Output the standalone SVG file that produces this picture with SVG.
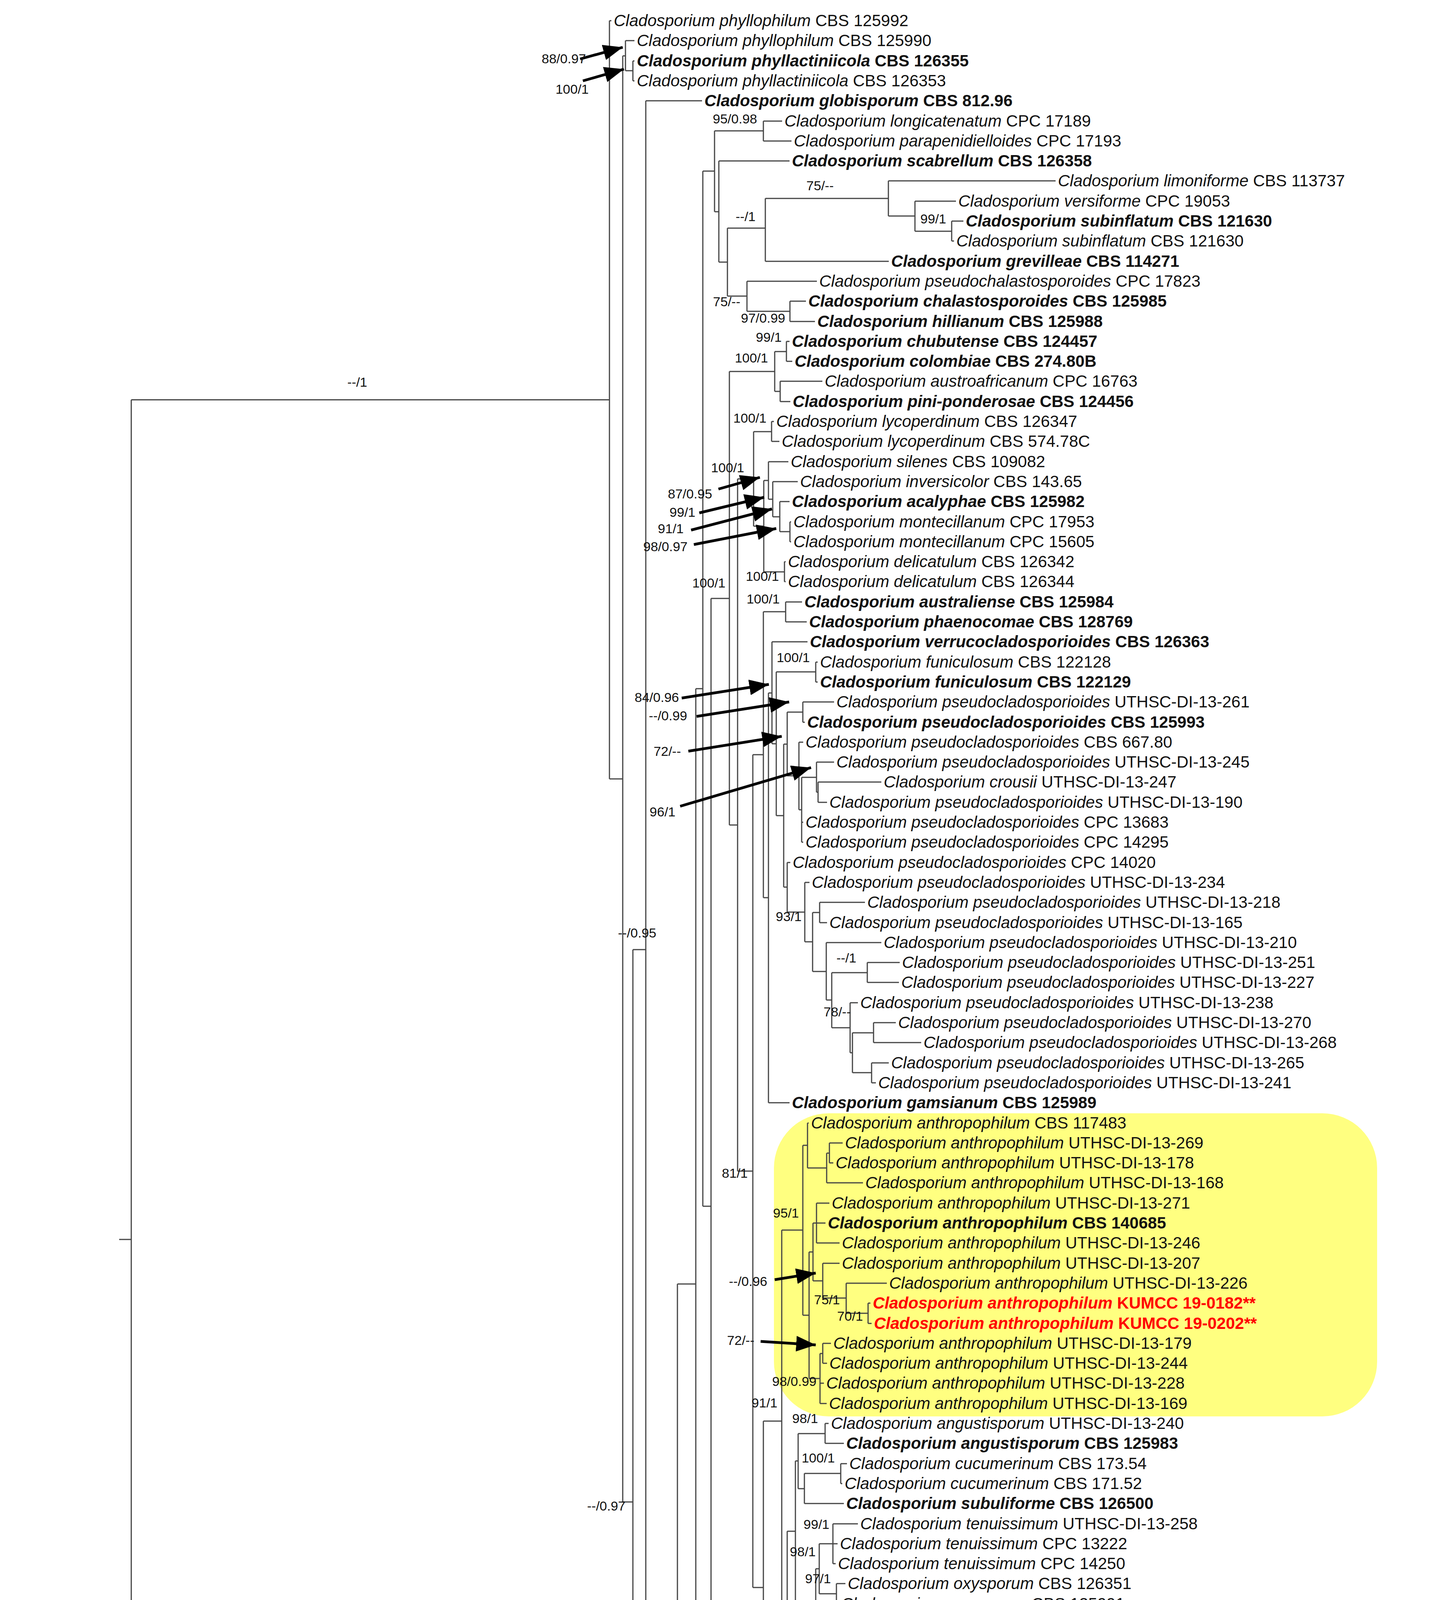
<svg xmlns="http://www.w3.org/2000/svg" width="3709" height="5414" viewBox="0 0 3709 5414">
<style>
.t{font-family:"Liberation Sans",Arial,sans-serif;font-size:42px;fill:#111}
.i{font-style:italic}
.b{font-weight:bold}
.r{fill:#ff0000;font-weight:bold}
.s{font-family:"Liberation Sans",Arial,sans-serif;font-size:34px;fill:#111;text-anchor:end}
.e{fill:none;stroke:#444;stroke-width:3}
.a{stroke:#000;stroke-width:7;marker-end:url(#ah)}
</style>
<defs>
<marker id="ah" viewBox="0 0 50 40" refX="50" refY="20" markerWidth="50" markerHeight="40" markerUnits="userSpaceOnUse" orient="auto"><path d="M0 0L50 20L0 40z" fill="#000"/></marker>
</defs>
<rect width="3709" height="5414" fill="#fff"/>
<rect id="highlight" x="1981" y="2850" width="1544" height="776" rx="140" fill="#ffff80"/>
<rect id="outgroup-bar" x="16" y="5303" width="3662" height="80" rx="18" fill="#69b9e2"/>
<g id="connectors" class="e">
<path d="M336 1023.5V5322M305 3173H336M336 1023.5H1560M1560 53V1994M1560 1994H1594M1594 143V3845M1594 143H1601M1601 104V181M1601 181H1620M1620 156V207M1594 3845H1620M1620 2431V5260M1620 2431H1653M1653 258V4603M1620 5260H1662M1662 5234V5286M1653 4603H1686M1686 4120V5087M1686 4120H1734M1734 3287V4952M1686 5087H1719M1719 5029V5145M1719 5145H1795M1795 5106V5183M1795 5106H1808M1808 5080V5132M1734 4952H1773M1773 4927V4978M1734 3287H1781M1781 1763V4811M1781 4811H1940M1940 4773V4850M1940 4850H2040M2040 4824V4875M1781 1763H1799M1799 438V3088M1799 438H1829M1829 335V542M1829 335H1954M1954 310V361M1829 542H1840M1840 412V671M1840 671H1862M1862 584V758M1862 584H1959M1959 508V669M1959 508H2274M2274 463V553M2274 553H2342M2342 515V592M2342 592H2436M2436 566V617M1862 758H1912M1912 720V797M1912 797H2022M2022 771V823"/>
<path d="M1799 3088H1820M1820 1532V4644M1820 1532H1867M1867 951V2112M1867 951H1983M1983 900V1002M1983 900H2013M2013 874V925M1983 1002H1997M1997 976V1028M1867 2112H1888M1888 1226V2998M1888 1226H1929M1929 1105V1347M1929 1105H1975M1975 1079V1130M1929 1347H1955M1955 1230V1464M1955 1230H1967M1967 1182V1278M1967 1278H1978M1978 1233V1323M1978 1323H1996M1996 1284V1361M1996 1361H2022M2022 1336V1387M1955 1464H2008M2008 1438V1489M1888 2998H1927M1927 1932V4064M1927 1932H1954M1954 1566V2298M1954 1566H2011M2011 1541V1592M1954 2298H1967M1967 1774V2823M1967 1774H1976M1976 1643V1904M1976 1904H1987M1987 1720V2088M1987 1720H2088M2088 1695V1746M1987 2088H2006M2006 1905V2271M2006 1905H2015M2015 1823V1986M2015 1823H2055M2055 1797V1849M2015 1986H2045M2045 1900V2073M2045 2073H2052M2052 1990V2156M2052 1990H2090M2090 1951V2028M2090 2028H2094M2094 2002V2054M2006 2271H2015M2015 2208V2335M2015 2335H2060M2060 2259V2411M2060 2411H2080M2080 2336V2487M2080 2336H2098M2098 2310V2362M2080 2487H2115M2115 2413V2560M2115 2560H2129M2129 2490V2631M2129 2490H2220M2220 2464V2515M2129 2631H2176M2176 2567V2695M2176 2695H2182M2182 2644V2746M2182 2644H2236M2236 2618V2669M2182 2746H2231M2231 2721V2772"/>
<path d="M1927 4064H1954M1954 3638V4491M1954 4491H1994M1994 4465V4516M1954 3638H2001M2001 3149V4128M2001 3149H2055M2055 2932V3367M2055 2932H2067M2067 2875V2990M2067 2990H2116M2116 2952V3028M2116 2952H2123M2123 2926V2977M2055 3367H2071M2071 3205V3529M2071 3205H2081M2081 3131V3279M2081 3131H2090M2090 3080V3182M2081 3279H2106M2106 3234V3323M2106 3323H2166M2166 3285V3362M2166 3362H2222M2222 3336V3388M2071 3529H2099M2099 3465V3593M2099 3465H2106M2106 3439V3490M2001 4128H2015M2015 3920V4337M2015 3920H2036M2036 3740V4099M2036 3740H2043M2043 3670V3811M2043 3670H2112M2112 3644V3695M2043 3811H2059M2059 3772V3849M2059 3772H2152M2152 3747V3798M2036 4099H2088M2088 4016V4183M2088 4016H2097M2097 3952V4080M2097 3952H2132M2132 3901V4003M2097 4080H2141M2141 4054V4106M2088 4183H2141M2141 4157V4208M2015 4337H2113M2113 4260V4414M1820 4644H1840M1840 4593V4695M1840 4593H1939M1939 4567V4619M1840 4695H1928M1928 4670V4721"/>
<path d="M1560 53H1565M1601 104H1624M1620 156H1624M1620 207H1624M1653 258H1797M1954 310H2002M1954 361H2026M1840 412H2021M2274 463H2702M2342 515H2447M2436 566H2466M2436 617H2442M1959 669H2275M1912 720H2091M2022 771H2063M2022 823H2086M2013 874H2021M2013 925H2028M1997 976H2105M1997 1028H2023M1975 1079H1981M1975 1130H1995M1967 1182H2018M1978 1233H2042M1996 1284H2021M2022 1336H2025M2022 1387H2025M2008 1438H2011M2008 1489H2011M2011 1541H2053M2011 1592H2065M1976 1643H2067M2088 1695H2093M2088 1746H2093M2055 1797H2135M2055 1849H2060M2045 1900H2056M2090 1951H2135M2094 2002H2256M2094 2054H2117M2052 2105H2056M2052 2156H2056M2015 2208H2023M2060 2259H2072M2098 2310H2214M2098 2362H2117M2115 2413H2256M2220 2464H2303M2220 2515H2301M2176 2567H2196M2236 2618H2293M2236 2669H2358M2231 2721H2275M2231 2772H2242M1967 2823H2021"/>
<path d="M2067 2875H2070M2123 2926H2157M2123 2977H2133M2116 3028H2209M2090 3080H2123M2090 3131H2113M2090 3182H2149M2106 3234H2149M2166 3285H2270M2222 3336H2228M2222 3388H2231M2106 3439H2127M2106 3490H2117M2099 3541H2109M2099 3593H2116M2112 3644H2121M2112 3695H2160M2152 3747H2168M2152 3798H2156M2059 3849H2160M2132 3901H2196M2132 3952H2144M2132 4003H2139M2141 4054H2164M2141 4106H2147M2141 4157H2151M2141 4208H2147M2113 4260H2124M2113 4311H2117M2113 4362H2117M2113 4414H2194M1994 4465H2073M1994 4516H2068M1939 4567H1943M1939 4619H1958M1928 4670H2011M1928 4721H2254M1940 4773H2267M2040 4824H2046M2040 4875H2265M1773 4927H1893M1773 4978H1865M1719 5029H1840M1808 5080H2294M1808 5132H1865M1795 5183H1998M1662 5234H1679M1662 5286H1674M336 5322H2785"/>
<path d="M336 5338H837" stroke="#2a6f94" stroke-width="5"/>
</g>
<g id="arrows">
<line class="a" x1="1485" y1="151" x2="1594" y2="121"/>
<line class="a" x1="1492" y1="207" x2="1597" y2="177"/>
<line class="a" x1="1839" y1="1252" x2="1945" y2="1222"/>
<line class="a" x1="1790" y1="1313" x2="1956" y2="1273"/>
<line class="a" x1="1769" y1="1357" x2="1976" y2="1303"/>
<line class="a" x1="1776" y1="1394" x2="1987" y2="1353"/>
<line class="a" x1="1745" y1="1787" x2="1968" y2="1752"/>
<line class="a" x1="1783" y1="1834" x2="2020" y2="1797"/>
<line class="a" x1="1762" y1="1923" x2="2001" y2="1885"/>
<line class="a" x1="1741" y1="2064" x2="2076" y2="1965"/>
<line class="a" x1="1983" y1="3276" x2="2088" y2="3259"/>
<line class="a" x1="1947" y1="3434" x2="2088" y2="3443"/>
</g>
<g id="support">
<text class="s" x="1500" y="162">88/0.97</text>
<text class="s" x="1507" y="240">100/1</text>
<text class="s" x="940" y="990">--/1</text>
<text class="s" x="1938" y="316">95/0.98</text>
<text class="s" x="2134" y="487">75/--</text>
<text class="s" x="1934" y="566">--/1</text>
<text class="s" x="2422" y="572">99/1</text>
<text class="s" x="1895" y="784">75/--</text>
<text class="s" x="2010" y="826">97/0.99</text>
<text class="s" x="2001" y="875">99/1</text>
<text class="s" x="1966" y="928">100/1</text>
<text class="s" x="1962" y="1082">100/1</text>
<text class="s" x="1905" y="1209">100/1</text>
<text class="s" x="1823" y="1276">87/0.95</text>
<text class="s" x="1780" y="1323">99/1</text>
<text class="s" x="1750" y="1365">91/1</text>
<text class="s" x="1760" y="1411">98/0.97</text>
<text class="s" x="1994" y="1487">100/1</text>
<text class="s" x="1857" y="1504">100/1</text>
<text class="s" x="1996" y="1545">100/1</text>
<text class="s" x="2073" y="1695">100/1</text>
<text class="s" x="1738" y="1797">84/0.96</text>
<text class="s" x="1759" y="1844">--/0.99</text>
<text class="s" x="1743" y="1935">72/--</text>
<text class="s" x="1729" y="2090">96/1</text>
<text class="s" x="2052" y="2358">93/1</text>
<text class="s" x="1680" y="2400">--/0.95</text>
<text class="s" x="2192" y="2464">--/1</text>
<text class="s" x="2178" y="2602">78/--</text>
<text class="s" x="1914" y="3015">81/1</text>
<text class="s" x="2045" y="3117">95/1</text>
<text class="s" x="1964" y="3292">--/0.96</text>
<text class="s" x="2150" y="3339">75/1</text>
<text class="s" x="2209" y="3381">70/1</text>
<text class="s" x="1931" y="3443">72/--</text>
<text class="s" x="2090" y="3548">98/0.99</text>
<text class="s" x="1990" y="3603">91/1</text>
<text class="s" x="2094" y="3643">98/1</text>
<text class="s" x="2137" y="3744">100/1</text>
<text class="s" x="1601" y="3867">--/0.97</text>
<text class="s" x="2123" y="3914">99/1</text>
<text class="s" x="2088" y="3984">98/1</text>
<text class="s" x="2127" y="4053">97/1</text>
<text class="s" x="2078" y="4122">100/1</text>
<text class="s" x="2129" y="4204">100/1</text>
<text class="s" x="2119" y="4282">100/1</text>
<text class="s" x="1991" y="4520">83/1</text>
<text class="s" x="1925" y="4572">95/1</text>
<text class="s" x="1700" y="4630">--/0.96</text>
<text class="s" x="1925" y="4672">84/1</text>
<text class="s" x="1908" y="4790">100/1</text>
<text class="s" x="2040" y="4870">85/0.96</text>
<text class="s" x="1825" y="4925">68/0.99</text>
<text class="s" x="1711" y="5110">72/--</text>
<text class="s" x="1790" y="5160">93/1</text>
<text class="s" x="1655" y="5290">99/1</text>
<text class="s" x="578" y="5376">0.2</text>
</g>
<g id="taxa" class="t">
<text x="1571" y="67"><tspan class="i">Cladosporium phyllophilum</tspan> CBS 125992</text>
<text x="1630" y="118"><tspan class="i">Cladosporium phyllophilum</tspan> CBS 125990</text>
<text x="1630" y="170" class="b"><tspan class="i">Cladosporium phyllactiniicola</tspan> CBS 126355</text>
<text x="1630" y="221"><tspan class="i">Cladosporium phyllactiniicola</tspan> CBS 126353</text>
<text x="1803" y="272" class="b"><tspan class="i">Cladosporium globisporum</tspan> CBS 812.96</text>
<text x="2008" y="324"><tspan class="i">Cladosporium longicatenatum</tspan> CPC 17189</text>
<text x="2032" y="375"><tspan class="i">Cladosporium parapenidielloides</tspan> CPC 17193</text>
<text x="2027" y="426" class="b"><tspan class="i">Cladosporium scabrellum</tspan> CBS 126358</text>
<text x="2708" y="477"><tspan class="i">Cladosporium limoniforme</tspan> CBS 113737</text>
<text x="2453" y="529"><tspan class="i">Cladosporium versiforme</tspan> CPC 19053</text>
<text x="2472" y="580" class="b"><tspan class="i">Cladosporium subinflatum</tspan> CBS 121630</text>
<text x="2448" y="631"><tspan class="i">Cladosporium subinflatum</tspan> CBS 121630</text>
<text x="2281" y="683" class="b"><tspan class="i">Cladosporium grevilleae</tspan> CBS 114271</text>
<text x="2097" y="734"><tspan class="i">Cladosporium pseudochalastosporoides</tspan> CPC 17823</text>
<text x="2069" y="785" class="b"><tspan class="i">Cladosporium chalastosporoides</tspan> CBS 125985</text>
<text x="2092" y="837" class="b"><tspan class="i">Cladosporium hillianum</tspan> CBS 125988</text>
<text x="2027" y="888" class="b"><tspan class="i">Cladosporium chubutense</tspan> CBS 124457</text>
<text x="2034" y="939" class="b"><tspan class="i">Cladosporium colombiae</tspan> CBS 274.80B</text>
<text x="2111" y="990"><tspan class="i">Cladosporium austroafricanum</tspan> CPC 16763</text>
<text x="2029" y="1042" class="b"><tspan class="i">Cladosporium pini-ponderosae</tspan> CBS 124456</text>
<text x="1987" y="1093"><tspan class="i">Cladosporium lycoperdinum</tspan> CBS 126347</text>
<text x="2001" y="1144"><tspan class="i">Cladosporium lycoperdinum</tspan> CBS 574.78C</text>
<text x="2024" y="1196"><tspan class="i">Cladosporium silenes</tspan> CBS 109082</text>
<text x="2048" y="1247"><tspan class="i">Cladosporium inversicolor</tspan> CBS 143.65</text>
<text x="2027" y="1298" class="b"><tspan class="i">Cladosporium acalyphae</tspan> CBS 125982</text>
<text x="2031" y="1350"><tspan class="i">Cladosporium montecillanum</tspan> CPC 17953</text>
<text x="2031" y="1401"><tspan class="i">Cladosporium montecillanum</tspan> CPC 15605</text>
<text x="2017" y="1452"><tspan class="i">Cladosporium delicatulum</tspan> CBS 126342</text>
<text x="2017" y="1503"><tspan class="i">Cladosporium delicatulum</tspan> CBS 126344</text>
<text x="2059" y="1555" class="b"><tspan class="i">Cladosporium australiense</tspan> CBS 125984</text>
<text x="2071" y="1606" class="b"><tspan class="i">Cladosporium phaenocomae</tspan> CBS 128769</text>
<text x="2073" y="1657" class="b"><tspan class="i">Cladosporium verrucocladosporioides</tspan> CBS 126363</text>
<text x="2099" y="1709"><tspan class="i">Cladosporium funiculosum</tspan> CBS 122128</text>
<text x="2099" y="1760" class="b"><tspan class="i">Cladosporium funiculosum</tspan> CBS 122129</text>
<text x="2141" y="1811"><tspan class="i">Cladosporium pseudocladosporioides</tspan> UTHSC-DI-13-261</text>
<text x="2066" y="1863" class="b"><tspan class="i">Cladosporium pseudocladosporioides</tspan> CBS 125993</text>
<text x="2062" y="1914"><tspan class="i">Cladosporium pseudocladosporioides</tspan> CBS 667.80</text>
<text x="2141" y="1965"><tspan class="i">Cladosporium pseudocladosporioides</tspan> UTHSC-DI-13-245</text>
<text x="2262" y="2016"><tspan class="i">Cladosporium crousii</tspan> UTHSC-DI-13-247</text>
<text x="2123" y="2068"><tspan class="i">Cladosporium pseudocladosporioides</tspan> UTHSC-DI-13-190</text>
<text x="2062" y="2119"><tspan class="i">Cladosporium pseudocladosporioides</tspan> CPC 13683</text>
<text x="2062" y="2170"><tspan class="i">Cladosporium pseudocladosporioides</tspan> CPC 14295</text>
<text x="2029" y="2222"><tspan class="i">Cladosporium pseudocladosporioides</tspan> CPC 14020</text>
<text x="2078" y="2273"><tspan class="i">Cladosporium pseudocladosporioides</tspan> UTHSC-DI-13-234</text>
<text x="2220" y="2324"><tspan class="i">Cladosporium pseudocladosporioides</tspan> UTHSC-DI-13-218</text>
<text x="2123" y="2376"><tspan class="i">Cladosporium pseudocladosporioides</tspan> UTHSC-DI-13-165</text>
<text x="2262" y="2427"><tspan class="i">Cladosporium pseudocladosporioides</tspan> UTHSC-DI-13-210</text>
<text x="2309" y="2478"><tspan class="i">Cladosporium pseudocladosporioides</tspan> UTHSC-DI-13-251</text>
<text x="2307" y="2529"><tspan class="i">Cladosporium pseudocladosporioides</tspan> UTHSC-DI-13-227</text>
<text x="2202" y="2581"><tspan class="i">Cladosporium pseudocladosporioides</tspan> UTHSC-DI-13-238</text>
<text x="2299" y="2632"><tspan class="i">Cladosporium pseudocladosporioides</tspan> UTHSC-DI-13-270</text>
<text x="2364" y="2683"><tspan class="i">Cladosporium pseudocladosporioides</tspan> UTHSC-DI-13-268</text>
<text x="2281" y="2735"><tspan class="i">Cladosporium pseudocladosporioides</tspan> UTHSC-DI-13-265</text>
<text x="2248" y="2786"><tspan class="i">Cladosporium pseudocladosporioides</tspan> UTHSC-DI-13-241</text>
<text x="2027" y="2837" class="b"><tspan class="i">Cladosporium gamsianum</tspan> CBS 125989</text>
<text x="2076" y="2889"><tspan class="i">Cladosporium anthropophilum</tspan> CBS 117483</text>
<text x="2163" y="2940"><tspan class="i">Cladosporium anthropophilum</tspan> UTHSC-DI-13-269</text>
<text x="2139" y="2991"><tspan class="i">Cladosporium anthropophilum</tspan> UTHSC-DI-13-178</text>
<text x="2215" y="3042"><tspan class="i">Cladosporium anthropophilum</tspan> UTHSC-DI-13-168</text>
<text x="2129" y="3094"><tspan class="i">Cladosporium anthropophilum</tspan> UTHSC-DI-13-271</text>
<text x="2119" y="3145" class="b"><tspan class="i">Cladosporium anthropophilum</tspan> CBS 140685</text>
<text x="2155" y="3196"><tspan class="i">Cladosporium anthropophilum</tspan> UTHSC-DI-13-246</text>
<text x="2155" y="3248"><tspan class="i">Cladosporium anthropophilum</tspan> UTHSC-DI-13-207</text>
<text x="2276" y="3299"><tspan class="i">Cladosporium anthropophilum</tspan> UTHSC-DI-13-226</text>
<text x="2234" y="3350" class="r"><tspan class="i">Cladosporium anthropophilum</tspan> KUMCC 19-0182**</text>
<text x="2237" y="3402" class="r"><tspan class="i">Cladosporium anthropophilum</tspan> KUMCC 19-0202**</text>
<text x="2133" y="3453"><tspan class="i">Cladosporium anthropophilum</tspan> UTHSC-DI-13-179</text>
<text x="2123" y="3504"><tspan class="i">Cladosporium anthropophilum</tspan> UTHSC-DI-13-244</text>
<text x="2115" y="3555"><tspan class="i">Cladosporium anthropophilum</tspan> UTHSC-DI-13-228</text>
<text x="2122" y="3607"><tspan class="i">Cladosporium anthropophilum</tspan> UTHSC-DI-13-169</text>
<text x="2127" y="3658"><tspan class="i">Cladosporium angustisporum</tspan> UTHSC-DI-13-240</text>
<text x="2166" y="3709" class="b"><tspan class="i">Cladosporium angustisporum</tspan> CBS 125983</text>
<text x="2174" y="3761"><tspan class="i">Cladosporium cucumerinum</tspan> CBS 173.54</text>
<text x="2162" y="3812"><tspan class="i">Cladosporium cucumerinum</tspan> CBS 171.52</text>
<text x="2166" y="3863" class="b"><tspan class="i">Cladosporium subuliforme</tspan> CBS 126500</text>
<text x="2202" y="3915"><tspan class="i">Cladosporium tenuissimum</tspan> UTHSC-DI-13-258</text>
<text x="2150" y="3966"><tspan class="i">Cladosporium tenuissimum</tspan> CPC 13222</text>
<text x="2145" y="4017"><tspan class="i">Cladosporium tenuissimum</tspan> CPC 14250</text>
<text x="2170" y="4068"><tspan class="i">Cladosporium oxysporum</tspan> CBS 126351</text>
<text x="2153" y="4120"><tspan class="i">Cladosporium oxysporum</tspan> CBS 125991</text>
<text x="2157" y="4171" class="b"><tspan class="i">Cladosporium colocasiae</tspan> CBS 386.64</text>
<text x="2153" y="4222"><tspan class="i">Cladosporium colocasiae</tspan> CBS 119542</text>
<text x="2130" y="4274" class="b"><tspan class="i">Cladosporium cladosporioides</tspan> CBS 112388</text>
<text x="2123" y="4325"><tspan class="i">Cladosporium cladosporioides</tspan> CPC 14292</text>
<text x="2123" y="4376"><tspan class="i">Cladosporium cladosporioides</tspan> CBS 113738</text>
<text x="2200" y="4428"><tspan class="i">Cladosporium cladosporioides</tspan> UTHSC-DI-13-215</text>
<text x="2079" y="4479" class="b"><tspan class="i">Cladosporium rectoides</tspan> CBS 125994</text>
<text x="2074" y="4530" class="b"><tspan class="i">Cladosporium xylophilum</tspan> CBS 125997</text>
<text x="1949" y="4581" class="b"><tspan class="i">Cladosporium asperulatum</tspan> CBS 126340</text>
<text x="1964" y="4633"><tspan class="i">Cladosporium asperulatum</tspan> CBS 126339</text>
<text x="2017" y="4684"><tspan class="i">Cladosporium myrtacearum</tspan> CBS 126350</text>
<text x="2260" y="4735"><tspan class="i">Cladosporium ruguloflabelliforme</tspan> CPC 19707</text>
<text x="2273" y="4787"><tspan class="i">Cladosporium flavovirens</tspan> UTHSC-DI-13-273</text>
<text x="2052" y="4838" class="b"><tspan class="i">Cladosporium flabelliforme</tspan> CBS 126345</text>
<text x="2271" y="4889"><tspan class="i">Cladosporium flabelliforme</tspan> UTHSC-DI-13-267</text>
<text x="1899" y="4941" class="b"><tspan class="i">Cladosporium varians</tspan> CBS 126362</text>
<text x="1871" y="4992" class="b"><tspan class="i">Cladosporium paracladosporioides</tspan> CBS 171.54</text>
<text x="1846" y="5043" class="b"><tspan class="i">Cladosporium exile</tspan> CBS 125987</text>
<text x="2300" y="5094" class="b"><tspan class="i">Cladosporium xantochromaticum</tspan> CBS 140691</text>
<text x="1871" y="5146" class="b"><tspan class="i">Cladosporium iranicum</tspan> CBS 126346</text>
<text x="2004" y="5197" class="b"><tspan class="i">Cladosporium alboflavescens</tspan> CBS 140690</text>
<text x="1685" y="5248"><tspan class="i">Cladosporium ipereniae</tspan> CPC 16855</text>
<text x="1680" y="5300" class="b"><tspan class="i">Cladosporium ipereniae</tspan> CBS 140483</text>
<text x="2793" y="5349" textLength="618" lengthAdjust="spacingAndGlyphs"><tspan class="i">Cercospora beticola</tspan> CBS 116456</text>
</g>
</svg>
